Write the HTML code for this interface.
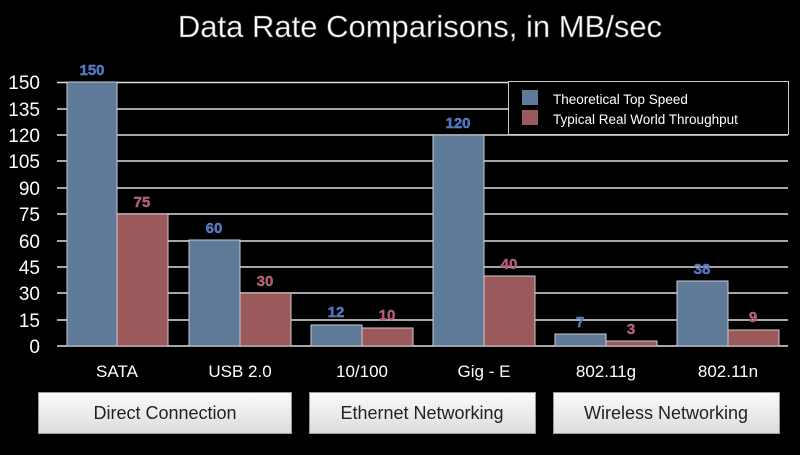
<!DOCTYPE html>
<html><head><style>
body{margin:0;width:800px;height:450px;background:#000;overflow:hidden;font-family:"Liberation Sans",sans-serif}
</style></head><body>
<svg width="800" height="450" xmlns="http://www.w3.org/2000/svg" font-family="Liberation Sans, sans-serif">
<text x="420" y="37" fill="#fff" stroke="#555" stroke-width="0.6" font-size="31" text-anchor="middle">Data Rate Comparisons, in MB/sec</text>
<g stroke="#ddd" stroke-width="1.5">
<line x1="57" x2="788" y1="82.5" y2="82.5"/><line x1="57" x2="788" y1="109" y2="109"/>
<line x1="57" x2="788" y1="135" y2="135"/><line x1="57" x2="788" y1="161" y2="161"/>
<line x1="57" x2="788" y1="188" y2="188"/><line x1="57" x2="788" y1="214" y2="214"/>
<line x1="57" x2="788" y1="241" y2="241"/><line x1="57" x2="788" y1="267" y2="267"/>
<line x1="57" x2="788" y1="293" y2="293"/><line x1="57" x2="788" y1="320" y2="320"/>
<line x1="57" x2="788" y1="346" y2="346"/>
</g>
<g fill="#fff" font-size="19" text-anchor="end">
<text x="40" y="89">150</text><text x="40" y="116">135</text><text x="40" y="142">120</text>
<text x="40" y="168">105</text><text x="40" y="195">90</text><text x="40" y="221">75</text>
<text x="40" y="248">60</text><text x="40" y="274">45</text><text x="40" y="300">30</text>
<text x="40" y="327">15</text><text x="40" y="353">0</text>
</g>
<g stroke="#c8ccd4" stroke-width="1">
<rect x="67" y="82" width="50" height="264" fill="#5f7a99"/>
<rect x="189" y="240" width="51" height="106" fill="#5f7a99"/>
<rect x="311" y="325" width="51" height="21" fill="#5f7a99"/>
<rect x="433" y="135" width="51" height="211" fill="#5f7a99"/>
<rect x="555" y="334" width="51" height="12" fill="#5f7a99"/>
<rect x="677" y="281" width="51" height="65" fill="#5f7a99"/>
</g>
<g stroke="#d4c8c8" stroke-width="1">
<rect x="117" y="214" width="51" height="132" fill="#9a5a5c"/>
<rect x="240" y="293" width="51" height="53" fill="#9a5a5c"/>
<rect x="362" y="328" width="51" height="18" fill="#9a5a5c"/>
<rect x="484" y="276" width="51" height="70" fill="#9a5a5c"/>
<rect x="606" y="341" width="51" height="5" fill="#9a5a5c"/>
<rect x="728" y="330" width="51" height="16" fill="#9a5a5c"/>
</g>
<g font-size="15" font-weight="bold" text-anchor="middle" stroke="#888" stroke-width="0.4">
<g fill="#3a74e8">
<text x="92" y="75">150</text><text x="214" y="233">60</text><text x="336" y="317">12</text>
<text x="458" y="128">120</text><text x="580" y="327">7</text><text x="702" y="274">38</text>
</g>
<g fill="#d04a6a">
<text x="142" y="207">75</text><text x="265" y="286">30</text><text x="387" y="320">10</text>
<text x="509" y="269">40</text><text x="631" y="334">3</text><text x="753" y="322">9</text>
</g>
</g>
<rect x="508.5" y="81.5" width="280" height="53" fill="#000" stroke="#ccc"/>
<rect x="522" y="90" width="16" height="15" fill="#5f7a99"/>
<rect x="522" y="110" width="16" height="15" fill="#9a5a5c"/>
<g fill="#fff" font-size="13.5"><text x="553" y="104">Theoretical Top Speed</text><text x="553" y="124">Typical Real World Throughput</text></g>
<g fill="#fff" font-size="17" text-anchor="middle">
<text x="117" y="377">SATA</text><text x="240" y="377">USB 2.0</text><text x="362" y="377">10/100</text>
<text x="484" y="377">Gig - E</text><text x="606" y="377">802.11g</text><text x="728" y="377">802.11n</text>
</g>
<defs><linearGradient id="g" x1="0" y1="0" x2="0" y2="1"><stop offset="0" stop-color="#fbfbfb"/><stop offset="1" stop-color="#dcdcdc"/></linearGradient></defs>
<g stroke="#999" fill="url(#g)">
<rect x="38.5" y="392.5" width="253" height="41"/>
<rect x="309.5" y="392.5" width="226" height="41"/>
<rect x="553.5" y="392.5" width="226" height="41"/>
</g>
<g fill="#222" font-size="18" text-anchor="middle">
<text x="165" y="419">Direct Connection</text><text x="422" y="419">Ethernet Networking</text><text x="666" y="419">Wireless Networking</text>
</g>
</svg>
</body></html>
